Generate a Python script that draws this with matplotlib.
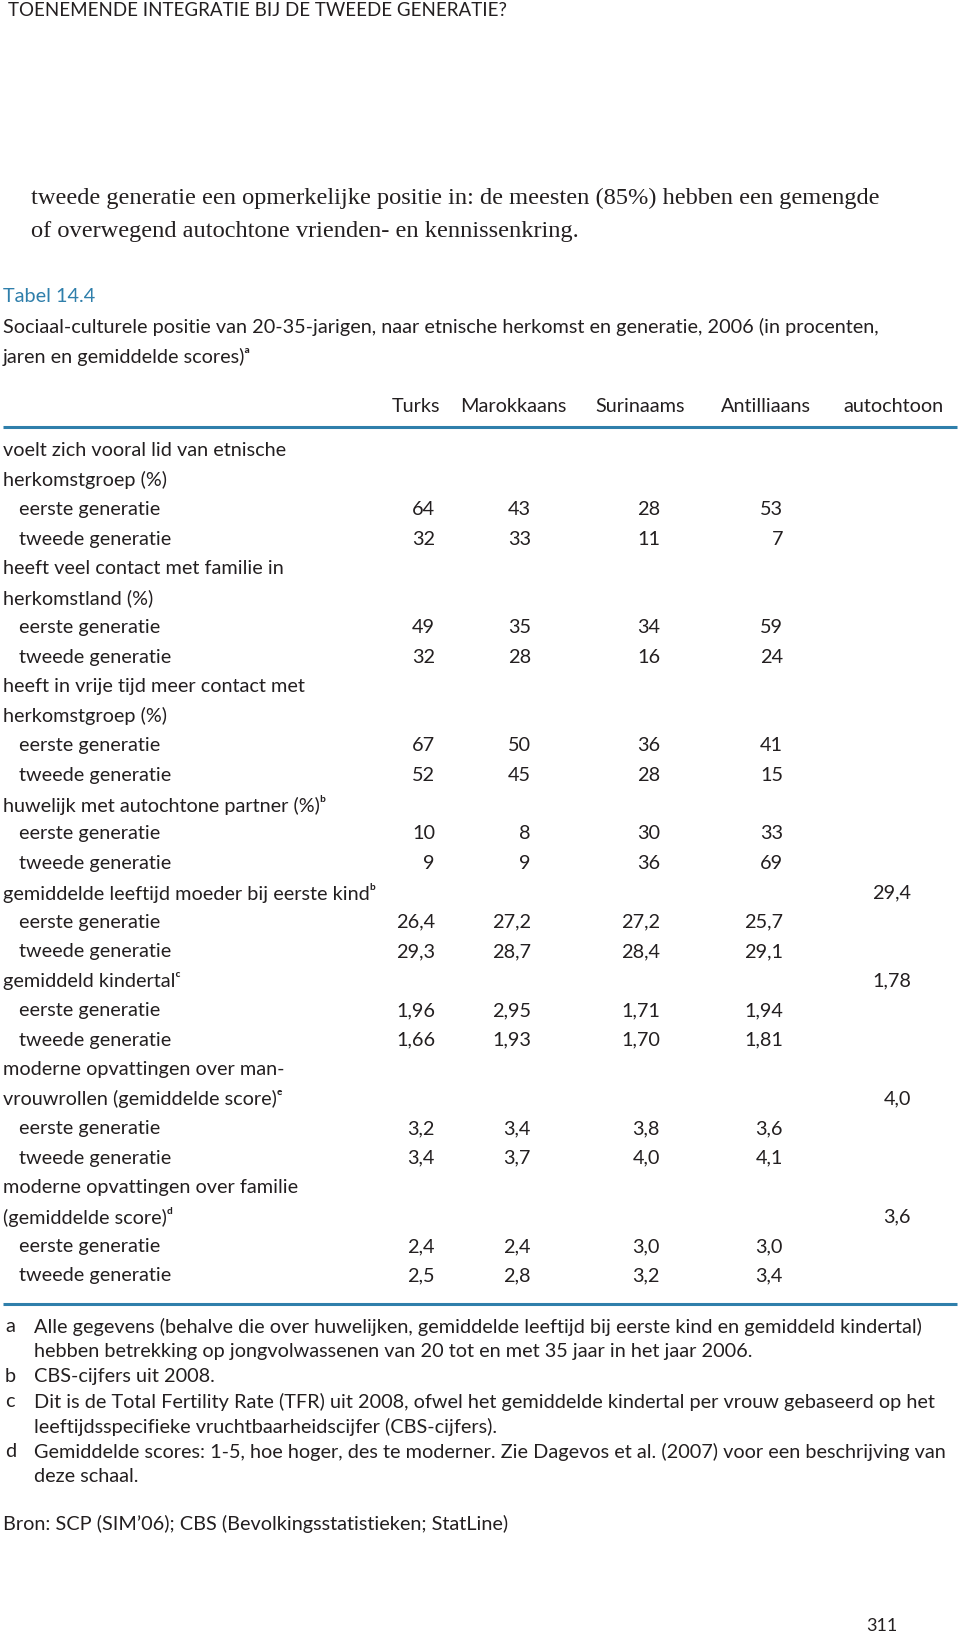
import matplotlib
matplotlib.use("Agg")
import matplotlib.pyplot as plt

# Tabel 14.4 - sociaal-culturele positie van 20-35-jarigen

columns = ["Turks", "Marokkaans", "Surinaams", "Antilliaans", "autochtoon"]

sect_titles = [
    ["voelt zich vooral lid van etnische", "herkomstgroep (%)"],
    ["heeft veel contact met familie in", "herkomstland (%)"],
    ["heeft in vrije tijd meer contact met", "herkomstgroep (%)"],
    ["huwelijk met autochtone partner (%)\u1d47"],
    ["gemiddelde leeftijd moeder bij eerste kind\u1d47"],
    ["gemiddeld kindertal\u1d9c"],
    ["moderne opvattingen over man-", "vrouwrollen (gemiddelde score)\u1d49"],
    ["moderne opvattingen over familie", "(gemiddelde score)\u1d48"],
]
decimals = [0, 0, 0, 0, 1, 2, 1, 1]
autochtoon = [None, None, None, None, 29.4, 1.78, 4.0, 3.6]
eerste = [
    [64, 43, 28, 53],
    [49, 35, 34, 59],
    [67, 50, 36, 41],
    [10, 8, 30, 33],
    [26.4, 27.2, 27.2, 25.7],
    [1.96, 2.95, 1.71, 1.94],
    [3.2, 3.4, 3.8, 3.6],
    [2.4, 2.4, 3.0, 3.0],
]
tweede = [
    [32, 33, 11, 7],
    [32, 28, 16, 24],
    [52, 45, 28, 15],
    [9, 9, 36, 69],
    [29.3, 28.7, 28.4, 29.1],
    [1.66, 1.93, 1.70, 1.81],
    [3.4, 3.7, 4.0, 4.1],
    [2.5, 2.8, 3.2, 3.4],
]
footnotes = [
    ("a", ["Alle gegevens (behalve die over huwelijken, gemiddelde leeftijd bij eerste kind en gemiddeld kindertal)",
           "hebben betrekking op jongvolwassenen van 20 tot en met 35 jaar in het jaar 2006."]),
    ("b", ["CBS-cijfers uit 2008."]),
    ("c", ["Dit is de Total Fertility Rate (TFR) uit 2008, ofwel het gemiddelde kindertal per vrouw gebaseerd op het",
           "leeftijdsspecifieke vruchtbaarheidscijfer (CBS-cijfers)."]),
    ("d", ["Gemiddelde scores: 1-5, hoe hoger, des te moderner. Zie Dagevos et al. (2007) voor een beschrijving van",
           "deze schaal."]),
]

INK = "#231f20"
BLUE = "#2f7fab"
FAM = ["Lato", "DejaVu Sans"]
FS = 14.3

col_x = [435, 531, 660, 783, 911]   # right edges of the number columns
head_x = [440, 566, 685, 811, 943]  # right edges of the header labels


def fmt(v, d):
    if v is None:
        return ""
    return f"{v:.{d}f}".replace(".", ",")


fig = plt.figure(figsize=(9.6, 16.4), dpi=100)
ax = fig.add_axes([0, 0, 1, 1])
ax.set_xlim(0, 960)
ax.set_ylim(1640, 0)
ax.axis("off")


def txt(x, y, s, ha="left", size=FS, color=INK, fam=FAM, **kw):
    ax.text(x, y, s, ha=ha, va="center", fontsize=size, color=color, family=fam, **kw)


# running head and body text
txt(8, 11, "TOENEMENDE INTEGRATIE BIJ DE TWEEDE GENERATIE?", size=13.5)
txt(31, 198, "tweede generatie een opmerkelijke positie in: de meesten (85%) hebben een gemengde",
    size=17.6, fam=["Liberation Serif", "DejaVu Serif"])
txt(31, 232, "of overwegend autochtone vrienden- en kennissenkring.",
    size=17.6, fam=["Liberation Serif", "DejaVu Serif"])

txt(3, 297, "Tabel 14.4", color=BLUE, size=14.3)
txt(3, 327, "Sociaal-culturele positie van 20-35-jarigen, naar etnische herkomst en generatie, 2006 (in procenten,")
txt(3, 357, "jaren en gemiddelde scores)\u1d43")

for name, x in zip(columns, head_x):
    txt(x, 406, name, ha="right")
ax.plot([3, 957], [428, 428], color=BLUE, lw=2.2, solid_capstyle="butt")

# table body
y0, step = 451, 29.46
row = 0
for i, lines in enumerate(sect_titles):
    for j, line in enumerate(lines):
        y = y0 + row * step
        txt(3, y, line)
        if j == len(lines) - 1 and autochtoon[i] is not None:
            txt(col_x[4], y, fmt(autochtoon[i], decimals[i]), ha="right")
        row += 1
    for label, vals in (("eerste generatie", eerste[i]), ("tweede generatie", tweede[i])):
        y = y0 + row * step
        txt(19, y, label)
        for v, x in zip(vals, col_x[:4]):
            txt(x, y, fmt(v, decimals[i]), ha="right")
        row += 1

ax.plot([3, 957], [1305, 1305], color=BLUE, lw=2.2, solid_capstyle="butt")

# footnotes
fy = 1327
for letter, lines in footnotes:
    txt(5, fy, letter)
    for line in lines:
        txt(34, fy, line)
        fy += 25

txt(3, 1524, "Bron: SCP (SIM\u201906); CBS (Bevolkingsstatistieken; StatLine)")
txt(897, 1626, "311", ha="right", size=13)

fig.savefig("out.png", dpi=100)
